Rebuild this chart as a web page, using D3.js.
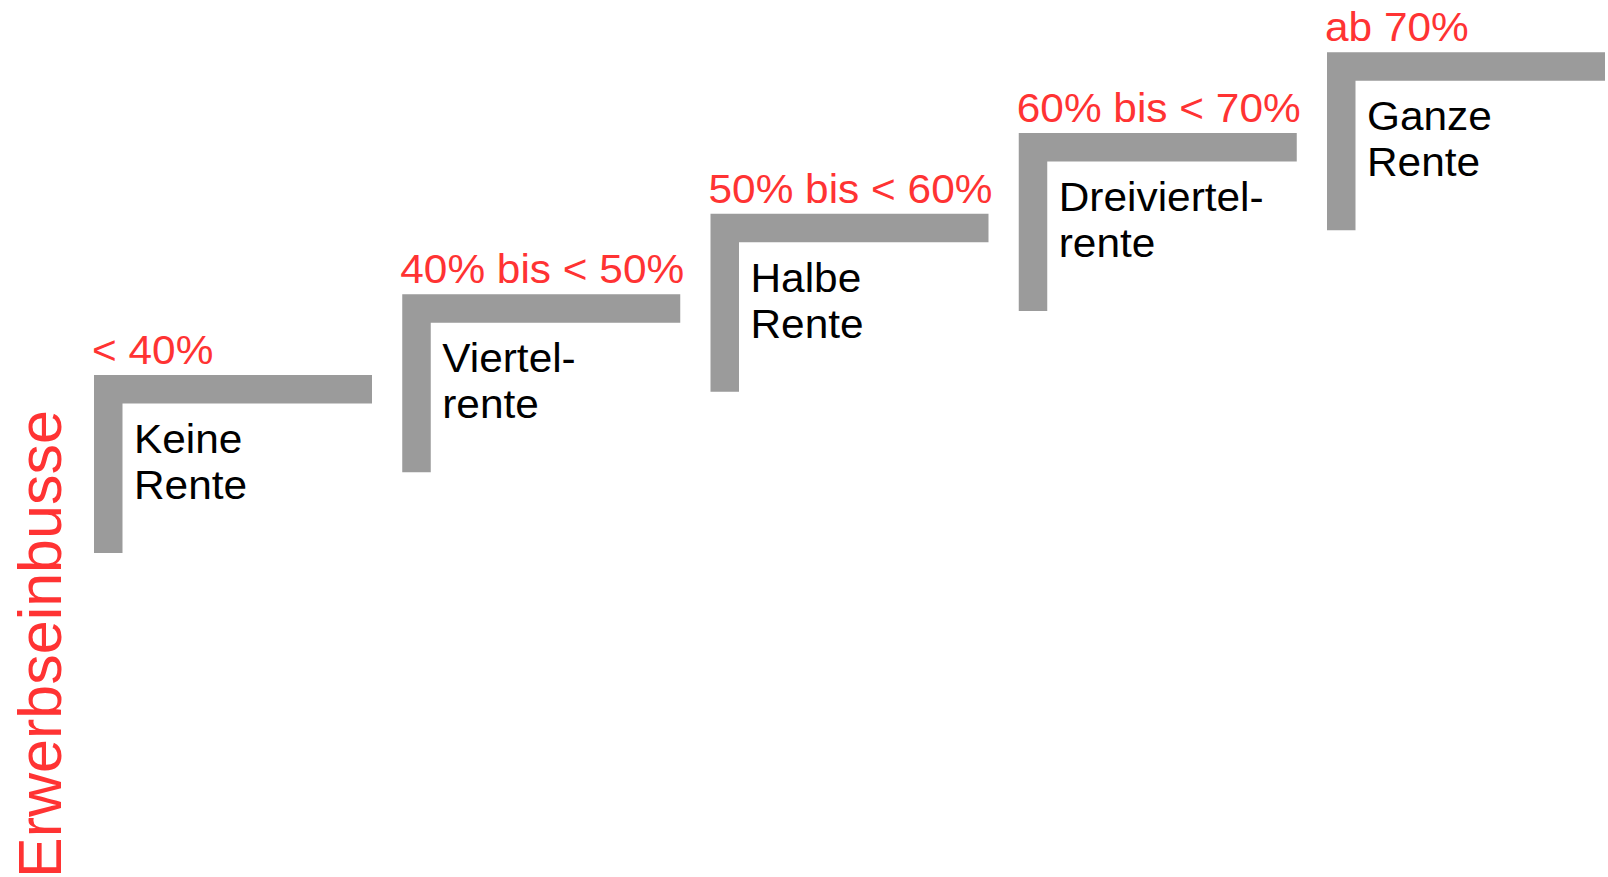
<!DOCTYPE html>
<html>
<head>
  <title>Erwerbseinbusse und Rentenanspruch</title>
  <script src="https://d3js.org/d3.v7.min.js"></script>
  <style>
    body { margin: 0; background: #fff; }
    text { font-family: "Liberation Sans", Arial, sans-serif; }
  </style>
</head>
<body>

<script>
// thresholds (red) and pension type (black, two lines) per step
const steps = [0, 1, 2, 3, 4];
const thresholds = ['< 40%', '40% bis < 50%', '50% bis < 60%', '60% bis < 70%', 'ab 70%'];
const renten = [
  ['Keine', 'Rente'],
  ['Viertel-', 'rente'],
  ['Halbe', 'Rente'],
  ['Dreiviertel-', 'rente'],
  ['Ganze', 'Rente']
];
const axisLabel = 'Erwerbseinbusse';

const width = 1608;
const height = 877;
const thick = 28.5;
const barLen = 278;
const legLen = 178;
const stretch = 1.06;

const svg = d3.select('body')
  .append('svg')
  .attr('width', width)
  .attr('height', height);

const x = d3.scaleLinear().domain([0, 4]).range([94, 1327]);
const y = d3.scaleLinear().domain([0, 4]).range([375, 52.3]);

const step = svg.selectAll('.step')
  .data(steps)
  .enter().append('g')
    .attr('class', 'step')
    .attr('transform', d => `translate(${x(d)},${y(d)})`);

// the L shaped bracket
step.append('path')
  .attr('fill', '#9b9b9b')
  .attr('d', `M0,0 H${barLen} V${thick} H${thick} V${legLen} H0 Z`);

step.append('text')
  .attr('transform', 'translate(-2,-11) scale(' + stretch + ',1)')
  .attr('fill', '#ff3333')
  .attr('font-size', 40)
  .text(d => thresholds[d]);

const lbl = step.append('text')
  .attr('transform', 'translate(40,78) scale(' + stretch + ',1)')
  .attr('fill', '#000')
  .attr('font-size', 40);

lbl.selectAll('tspan')
  .data(d => renten[d])
  .enter().append('tspan')
    .attr('x', 0)
    .attr('y', (d, i) => i * 46)
    .text(d => d);

svg.append('text')
  .attr('transform', 'translate(61,878) rotate(-90)')
  .attr('fill', '#ff3333')
  .attr('font-size', 61)
  .text(axisLabel);
</script>

</body>
</html>
